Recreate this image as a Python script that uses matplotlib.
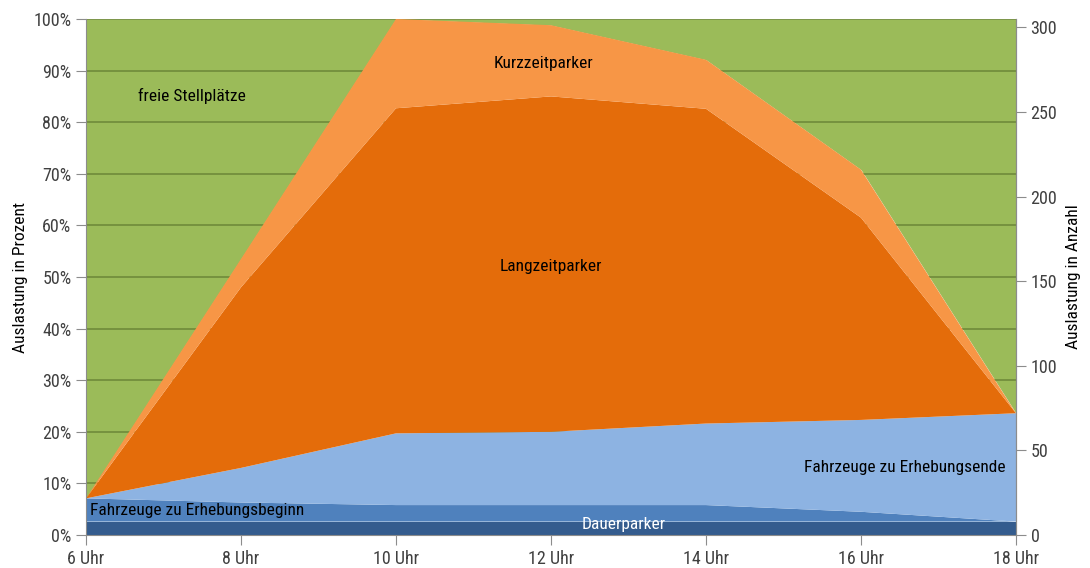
import matplotlib
matplotlib.use("Agg")
import matplotlib.pyplot as plt
from matplotlib import font_manager
import numpy as np

available = {f.name for f in font_manager.fontManager.ttflist}
family = "DejaVu Sans"
for cand in ["Roboto Condensed", "Open Sans Condensed", "Liberation Sans Narrow",
             "Noto Sans Display", "Roboto", "Lato", "Open Sans"]:
    if cand in available:
        family = cand
        break
plt.rcParams['font.family'] = [family, 'DejaVu Sans']

hours = [6, 8, 10, 12, 14, 16, 18]
tick_labels = ["6 Uhr", "8 Uhr", "10 Uhr", "12 Uhr", "14 Uhr", "16 Uhr", "18 Uhr"]
# layer thicknesses in percent of capacity
dauerparker = [2.6, 2.6, 2.6, 2.6, 2.6, 2.6, 2.6]
erhebungsbeginn = [4.5, 3.7, 3.2, 3.2, 3.2, 1.9, 0.0]
erhebungsende = [0.0, 6.7, 13.9, 14.2, 15.8, 17.8, 21.0]
langzeitparker = [0.0, 35.0, 63.0, 65.0, 61.0, 39.2, 0.0]
kurzzeitparker = [0.0, 5.5, 17.3, 13.8, 9.5, 9.3, 0.0]
capacity = 305

colors = ["#345C8E", "#4F81BD", "#8DB3E2", "#E46C0A", "#F79646"]
green = "#9BBB59"

fig = plt.figure(figsize=(10.9, 5.68), dpi=100)
ax = fig.add_axes([86/1090, 33/568, 930/1090, 516/568])

layers = [dauerparker, erhebungsbeginn, erhebungsende, langzeitparker, kurzzeitparker]
stack = np.cumsum(np.array(layers), axis=0)
ax.fill_between(hours, stack[-1], 100, color=green, lw=0, zorder=0)
ax.stackplot(hours, *layers, colors=colors, lw=0, zorder=2)

ax.set_xlim(6, 18)
ax.set_ylim(0, 100)
ax.set_yticks(range(0, 101, 10))
ax.set_yticklabels([f"{v}%" for v in range(0, 101, 10)])
ax.set_xticks(hours)
ax.set_xticklabels(tick_labels)
ax.set_axisbelow(True)
ax.yaxis.grid(True, color="#6F8A3A", lw=1.2)
ax.spines["top"].set_visible(False)
for s in ["left", "bottom", "right"]:
    ax.spines[s].set_color("#8C8C8C")
    ax.spines[s].set_zorder(3)
ax.tick_params(axis="both", colors="#8C8C8C", labelcolor="#404040", labelsize=13, length=7)
ax.set_ylabel("Auslastung in Prozent", fontsize=12.5, color="black", labelpad=4)

ax2 = ax.twinx()
ax2.set_ylim(0, capacity)
ax2.set_yticks(range(0, 301, 50))
ax2.spines["top"].set_visible(False)
ax2.spines["left"].set_visible(False)
ax2.spines["bottom"].set_visible(False)
ax2.spines["right"].set_color("#8C8C8C")
ax2.tick_params(axis="y", colors="#8C8C8C", labelcolor="#404040", labelsize=13, length=7)
ax2.set_ylabel("Auslastung in Anzahl", fontsize=12.5, color="black", labelpad=6)

fs = 12.5
ax.text(6.67, 85.1, "freie Stellplätze", fontsize=fs, ha="left", va="center", zorder=5)
ax.text(11.9, 91.3, "Kurzzeitparker", fontsize=fs, ha="center", va="center", zorder=5)
ax.text(12.0, 52.1, "Langzeitparker", fontsize=fs, ha="center", va="center", zorder=5)
ax.text(17.86, 13.0, "Fahrzeuge zu Erhebungsende", fontsize=fs, ha="right", va="center", zorder=5)
ax.text(6.05, 4.8, "Fahrzeuge zu Erhebungsbeginn", fontsize=fs, ha="left", va="center", zorder=5)
ax.text(12.94, 2.0, "Dauerparker", fontsize=fs, ha="center", va="center", color="white", zorder=5)

fig.savefig("out.png", dpi=100)
